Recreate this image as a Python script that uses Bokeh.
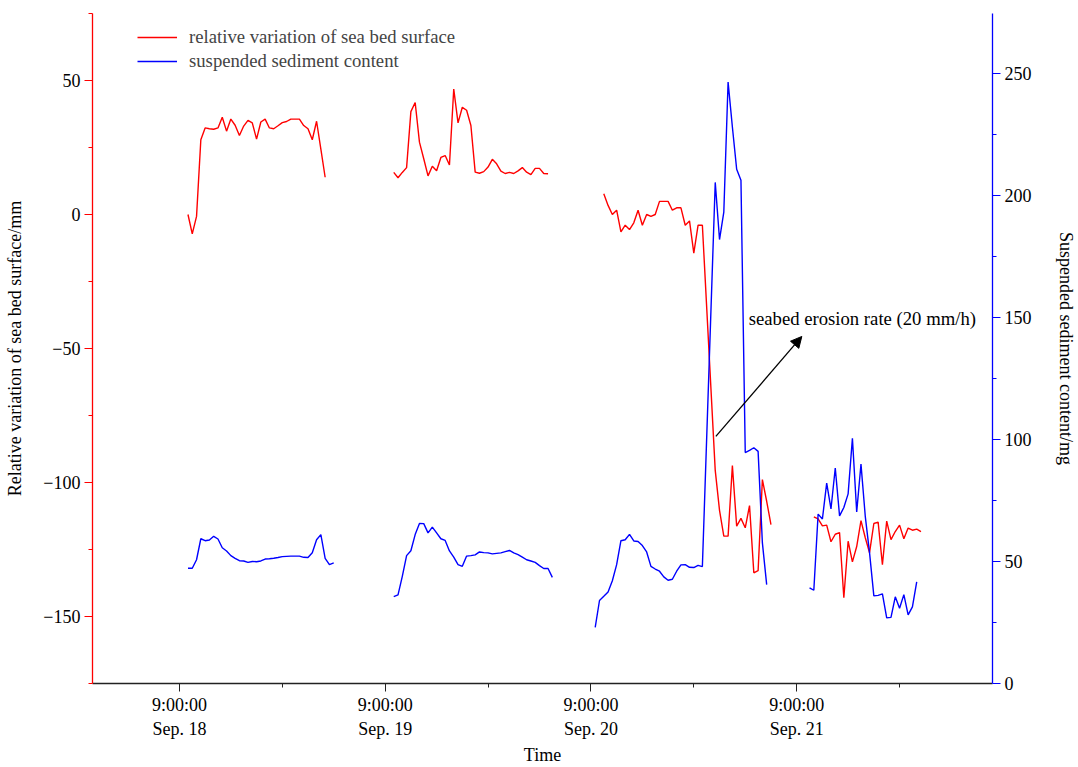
import numpy as np
from bokeh.plotting import figure
from bokeh.models import (Range1d, LinearAxis, FixedTicker, Arrow, NormalHead, Label)
from bokeh.embed import file_html
from bokeh.resources import INLINE

# time in hours since Sep. 18 00:00, half-hourly records
bed_t1 = list(np.arange(10.0, 26.01, 0.5))
bed_v1 = [0, -7.2, -0.7, 27.9, 32.3, 32.0, 31.8, 32.3, 36.3, 31.1, 35.6, 33.3, 29.5, 33.0, 35.1,
          34.2, 28.1, 34.5, 35.6, 32.3, 32.0, 33.1, 34.3, 34.7, 35.6, 35.6, 35.6, 33.2, 32.0,
          27.9, 34.8, 24.4, 13.9]
bed_t2 = list(np.arange(34.0, 52.01, 0.5))
bed_v2 = [15.7, 13.7, 15.7, 17.5, 38.4, 41.8, 27.0, 20.8, 14.4, 18.0, 16.3, 21.3, 22.0, 18.5,
          46.8, 34.2, 40.0, 38.9, 33.2, 15.8, 15.4, 16.0, 17.7, 20.6, 18.9, 16.2, 15.3, 15.7,
          15.3, 16.3, 17.5, 15.8, 14.9, 17.2, 17.2, 15.3, 15.2]
bed_t3 = list(np.arange(58.5, 70.01, 0.5)) + list(np.arange(71.5, 78.01, 0.5))
bed_v3 = [7.7, 3.4, 0, 1.6, -6.5, -4.0, -5.6, -3.1, 1.6, -4.0, 0, -0.7, 0, 4.9, 4.9, 4.9, 1.6,
          2.5, 2.5, -4.0, -2.4, -14.4, -4.0, -4.0,
          -95.5, -110.4, -120.0, -120.0, -93.7, -116.3, -113.4, -116.9, -108.6, -133.7, -132.9,
          -98.9, -107.0, -115.7]
bed_t4 = list(np.arange(83.0, 95.51, 0.5))
bed_v4 = [-112.8, -113.6, -116.2, -115.9, -122.1, -119.3, -118.7, -143.0, -121.9, -129.6,
          -123.9, -114.2, -120.6, -126.2, -115.3, -114.8, -130.7, -114.4, -121.3, -118.3,
          -115.9, -121.0, -117.0, -117.8, -117.4, -118.3]

sed_t1 = list(np.arange(10.0, 27.01, 0.5))
sed_v1 = [47.2, 47.2, 50.7, 59.3, 58.5, 58.8, 60.3, 59.2, 55.6, 54.3, 52.4, 51.3, 50.3, 50.2,
          49.6, 50.0, 49.9, 50.2, 51.0, 51.1, 51.3, 51.6, 52.0, 52.1, 52.2, 52.2, 52.2, 51.7,
          51.6, 53.6, 58.9, 61.0, 51.3, 48.7, 49.4]
sed_t2 = list(np.arange(34.0, 52.51, 0.5))
sed_v2 = [35.6, 36.3, 43.9, 52.4, 54.4, 61.0, 65.6, 65.5, 61.7, 64.1, 61.7, 59.3, 58.6, 54.3,
          51.8, 48.7, 48.0, 52.2, 52.4, 52.7, 53.9, 53.6, 53.5, 53.1, 53.3, 53.5, 54.0, 54.5,
          53.5, 52.8, 51.8, 50.7, 50.2, 49.6, 48.3, 47.1, 47.1, 43.5]
sed_t3 = list(np.arange(57.5, 70.01, 0.5)) + list(np.arange(71.5, 77.51, 0.5))
sed_v3 = [23.0, 34.0, 35.7, 37.5, 42.1, 48.7, 58.5, 58.9, 61.1, 58.4, 58.2, 56.5, 53.9, 48.0,
          46.9, 46.0, 43.7, 42.3, 42.7, 46.0, 48.6, 48.7, 47.6, 47.5, 48.4, 47.9,
          205.3, 181.9, 193.1, 246.4, 228.0, 210.7, 206.2, 94.6, 95.5, 96.6, 95.1, 57.6, 40.5]
sed_t4 = list(np.arange(82.5, 95.01, 0.5))
sed_v4 = [39.2, 38.2, 69.4, 67.4, 82.1, 71.5, 88.3, 68.7, 72.1, 77.7, 100.5, 70.3, 89.9, 68.5,
          53.5, 35.9, 36.1, 36.7, 26.9, 27.1, 35.5, 30.8, 36.4, 28.1, 31.4, 41.6]

x_ticks = [9, 33, 57, 81]
x_minor = [21, 45, 69, 93]
x_labels = ["9:00:00\nSep. 18", "9:00:00\nSep. 19", "9:00:00\nSep. 20", "9:00:00\nSep. 21"]
left_ticks = [-150, -100, -50, 0, 50]
left_minor = [-175, -125, -75, -25, 25, 75]
right_ticks = [0, 50, 100, 150, 200, 250]
right_minor = [25, 75, 125, 175, 225, 275]


def join(ts, vs):
    xs, ys = [], []
    for t, v in zip(ts, vs):
        if xs:
            xs.append(np.nan)
            ys.append(np.nan)
        xs += list(t)
        ys += list(v)
    return xs, ys


bx, by = join([bed_t1, bed_t2, bed_t3, bed_t4], [bed_v1, bed_v2, bed_v3, bed_v4])
sx, sy = join([sed_t1, sed_t2, sed_t3, sed_t4], [sed_v1, sed_v2, sed_v3, sed_v4])

FONT = "Liberation Serif"
RED = "#FF0000"
BLUE = "#0000FF"
TICK_FS = "18px"
TITLE_FS = "18px"
TEXT_FS = "18.7px"

p = figure(width=1078, height=767, output_backend="svg", toolbar_location=None,
           x_range=Range1d(-1.136, 103.84), y_range=Range1d(-175, 75),
           min_border_left=92, min_border_right=85, min_border_top=13, min_border_bottom=83)
p.extra_y_ranges = {"right": Range1d(0, 274.5)}
p.outline_line_color = None
p.xgrid.visible = False
p.ygrid.visible = False

p.line(bx, by, color=RED, line_width=1.4, legend_label="relative variation of sea bed surface")
p.line(sx, sy, color=BLUE, line_width=1.4, y_range_name="right",
       legend_label="suspended sediment content")


def style_axis(a, color):
    a.axis_line_color = color
    a.major_tick_line_color = color
    a.minor_tick_line_color = color
    a.axis_line_width = 1.3
    a.major_tick_out = 8
    a.major_tick_in = 0
    a.minor_tick_out = 4
    a.minor_tick_in = 0
    a.major_label_text_font = FONT
    a.major_label_text_font_size = TICK_FS
    a.major_label_text_color = "black"
    a.axis_label_text_font = FONT
    a.axis_label_text_font_size = TITLE_FS
    a.axis_label_text_font_style = "normal"
    a.axis_label_text_color = "black"


# bottom axis
xa = p.xaxis[0]
xa.ticker = FixedTicker(ticks=x_ticks, minor_ticks=x_minor)
xa.major_label_overrides = {t: l for t, l in zip(x_ticks, x_labels)}
xa.axis_label = "Time"
style_axis(xa, "#222222")
xa.major_label_standoff = 3
xa.axis_label_standoff = 3

# left axis
ya = p.yaxis[0]
ya.ticker = FixedTicker(ticks=left_ticks, minor_ticks=left_minor)
ya.major_label_overrides = {t: str(t).replace("-", "\u2212") for t in left_ticks}
ya.axis_label = "Relative variation of sea bed surface/mm"
style_axis(ya, RED)
ya.major_label_standoff = 4
ya.axis_label_standoff = 15

# right axis
ra = LinearAxis(y_range_name="right", ticker=FixedTicker(ticks=right_ticks, minor_ticks=right_minor),
                axis_label="Suspended sediment content/mg")
style_axis(ra, BLUE)
ra.major_label_standoff = 4
ra.axis_label_standoff = 21
p.add_layout(ra, "right")

# annotation
p.add_layout(Arrow(end=NormalHead(size=11, fill_color="black", line_color="black"),
                   x_start=71.57, y_start=-82.8, x_end=81.6, y_end=-45.5,
                   line_color="black", line_width=1.3))
p.add_layout(Label(x=75.4, y=-38.8, text="seabed erosion rate (20 mm/h)", text_baseline="middle",
                   text_font=FONT, text_font_size=TEXT_FS, text_color="black"))

lg = p.legend[0]
lg.location = (45, 611)
lg.padding = 0
lg.margin = 0
lg.spacing = 2
lg.glyph_width = 40
lg.glyph_height = 20
lg.label_standoff = 12
lg.border_line_color = None
lg.background_fill_alpha = 0
lg.label_text_font = FONT
lg.label_text_font_size = TEXT_FS

open("out.html", "w").write(file_html(p, INLINE))
